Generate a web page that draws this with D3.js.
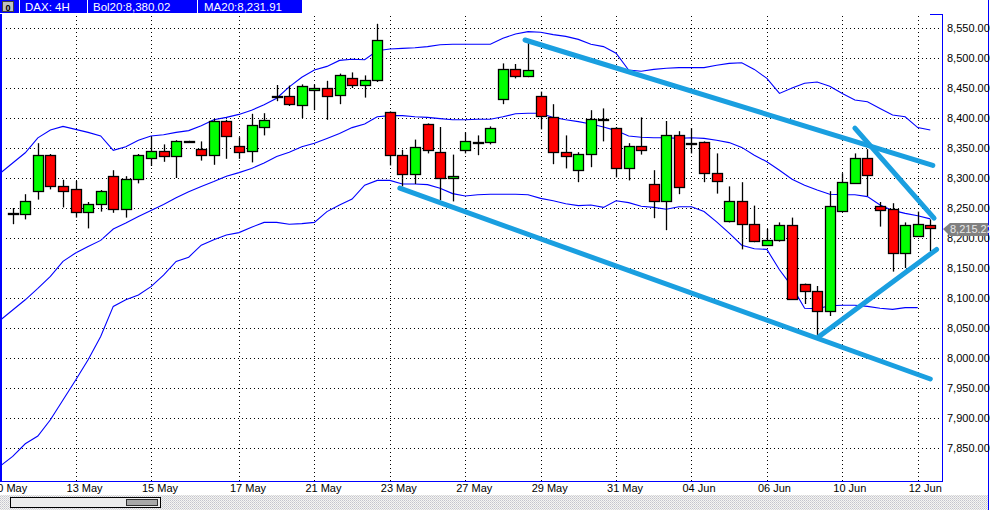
<!DOCTYPE html>
<html><head><meta charset="utf-8">
<script src="https://cdn.jsdelivr.net/npm/d3@7"></script>
<style>
html,body{margin:0;padding:0;background:#fff;}
svg{display:block;}
text{font-family:"Liberation Sans",Arial,sans-serif;}
</style></head>
<body><svg id="c" width="990" height="510"></svg>
<script>
// ---- data ----
const openV  = [8241,8241,8278,8338,8286,8281,8243,8256,8303,8248,8298,8333,8345,8336,8361,8348,8338,8395,8354,8344,8386,8436,8436,8423,8446,8450,8438,8466,8454,8463,8410,8338,8306,8390,8344,8301,8346,8360,8360,8431,8481,8470,8436,8401,8343,8313,8340,8399,8384,8318,8354,8290,8261,8371,8359,8360,8308,8228,8261,8223,8188,8196,8221,8123,8111,8078,8245,8293,8334,8254,8248,8174,8203,8221];
const highV  = [8250,8273,8358,8340,8297,8295,8260,8280,8313,8303,8340,8369,8356,8363,8362,8361,8398,8397,8368,8407,8408,8455,8454,8456,8456,8462,8474,8476,8471,8557,8411,8347,8364,8391,8385,8339,8376,8371,8386,8491,8490,8526,8444,8423,8371,8343,8413,8416,8385,8358,8401,8313,8395,8378,8383,8361,8341,8286,8293,8254,8215,8226,8234,8124,8120,8278,8308,8341,8348,8260,8258,8226,8244,8231];
const lowV   = [8223,8231,8264,8281,8251,8234,8216,8244,8242,8234,8291,8320,8327,8300,8360,8329,8322,8332,8332,8326,8371,8428,8420,8400,8413,8397,8423,8450,8434,8460,8321,8286,8290,8341,8263,8261,8341,8338,8356,8423,8466,8468,8381,8323,8316,8293,8318,8361,8301,8296,8339,8233,8213,8273,8341,8293,8274,8226,8181,8193,8188,8194,8098,8090,8038,8070,8245,8290,8270,8219,8144,8150,8203,8178];
const closeV = [8241,8262,8338,8287,8278,8243,8256,8278,8248,8298,8338,8345,8336,8361,8361,8338,8395,8370,8344,8388,8397,8436,8423,8454,8450,8436,8471,8454,8463,8530,8338,8306,8351,8346,8301,8304,8361,8360,8383,8481,8470,8480,8403,8343,8336,8340,8398,8399,8318,8354,8348,8261,8371,8284,8359,8308,8294,8261,8223,8194,8196,8221,8098,8111,8078,8253,8293,8334,8306,8248,8174,8221,8223,8215.22];
// Bollinger bands (index -1 .. 73)
const bolUpper = [8308,8325,8342,8367,8380,8386,8381,8376,8370,8346,8352,8363,8370,8372,8376,8379,8387,8397,8401,8406,8413,8422,8433,8452,8468,8480,8486,8496,8498,8497,8512,8515,8516,8517,8519,8522,8523,8523,8523,8523,8533,8540,8544,8543,8539,8536,8531,8523,8519,8508,8480,8478,8481,8483,8484,8484,8484,8488,8491,8492,8481,8466,8441,8450,8458,8460,8453,8441,8430,8427,8416,8405,8402,8384,8380.02];
const ma20     = [8063,8080,8097,8116,8136,8161,8175,8186,8196,8215,8225,8236,8246,8256,8267,8277,8286,8294,8303,8309,8316,8325,8336,8343,8352,8358,8366,8374,8384,8390,8402,8404,8404,8402,8401,8399,8397,8397,8398,8398,8402,8407,8408,8408,8401,8397,8394,8390,8385,8379,8370,8368,8367,8367,8366,8367,8366,8363,8359,8351,8338,8327,8313,8298,8288,8280,8273,8272,8272,8269,8255,8246,8241,8237,8231.91];
const bolLower = [7820,7836,7857,7870,7897,7930,7963,7997,8036,8086,8097,8105,8119,8138,8161,8168,8188,8197,8205,8209,8218,8226,8226,8223,8224,8226,8244,8255,8265,8288,8296,8296,8290,8290,8289,8283,8274,8270,8272,8273,8273,8273,8272,8266,8262,8257,8254,8255,8251,8262,8259,8253,8251,8248,8252,8252,8244,8227,8208,8188,8182,8181,8147,8119,8083,8082,8087,8088,8088,8086,8083,8081,8084,8084];
const tickIdx    = [-1,5,11,18,24,30,36,42,48,54,60,66,72];
const tickLabels = ["10 May","13 May","15 May","17 May","21 May","23 May","27 May","29 May","31 May","04 Jun","06 Jun","10 Jun","12 Jun"];
const yTicks = [7850,7900,7950,8000,8050,8100,8150,8200,8250,8300,8350,8400,8450,8500,8550];
// trend lines drawn on the chart: [index0, price0, index1, price1]
const trendLines = [[30.8,8283,73.0,7965],[40.76,8530,73.2,8321],[67.0,8383,73.3,8233],[64.1,8035,73.5,8181]];
const headerTexts = ["DAX: 4H","Bol20:8,380.02","MA20:8,231.91"];
const lastPrice = 8215.22;

// ---- chart ----
const svg = d3.select("#c");
const L = 2, R = 942, T = 14, B = 481;
const x = d3.scaleLinear().domain([0,73]).range([12.7,930.3]);
const y = d3.scaleLinear().domain([7850,8550]).range([448,28]);
const fmt = d3.format(",.2f");

svg.append("rect").attr("width",990).attr("height",510).attr("fill","#fff");

// dither pattern
const defs = svg.append("defs");
const pat = defs.append("pattern").attr("id","dith").attr("width",2).attr("height",2).attr("patternUnits","userSpaceOnUse");
pat.append("rect").attr("width",2).attr("height",2).attr("fill","#f4f4f4");
pat.append("rect").attr("width",1).attr("height",1).attr("fill","#c4c4cc");
pat.append("rect").attr("x",1).attr("y",1).attr("width",1).attr("height",1).attr("fill","#d8d8d8");
defs.append("clipPath").attr("id","plot").append("rect").attr("x",L).attr("y",T).attr("width",R-L).attr("height",B-T);

// grid
const grid = svg.append("g").attr("stroke","#000").attr("stroke-dasharray","1,3").attr("shape-rendering","crispEdges");
yTicks.forEach(v=>{
  grid.append("line").attr("x1",L+4).attr("x2",R).attr("y1",Math.round(y(v))+0.5).attr("y2",Math.round(y(v))+0.5);
});
tickIdx.forEach(i=>{
  if(i<0) return;
  const xx = Math.round(x(i))+0.5;
  grid.append("line").attr("x1",xx).attr("x2",xx).attr("y1",T+2).attr("y2",B);
});

const plot = svg.append("g").attr("clip-path","url(#plot)");

// bands
const bandLine = d3.line().x((d,i)=>x(i-1)).y(d=>y(d));
[bolUpper,ma20,bolLower].forEach(arr=>{
  plot.append("path").attr("d",bandLine(arr)).attr("fill","none").attr("stroke","#0000ff").attr("stroke-width",1.1);
});

// candles
const cw = 10;
const cg = plot.append("g");
closeV.forEach((c,i)=>{
  const o = openV[i], h = highV[i], l = lowV[i];
  const cx = Math.round(x(i))+0.5;
  cg.append("line").attr("x1",cx).attr("x2",cx).attr("y1",y(h)).attr("y2",y(l)).attr("stroke","#000").attr("stroke-width",1.3);
  const top = y(Math.max(o,c)), bot = y(Math.min(o,c));
  const hgt = Math.max(bot-top,1);
  const fill = Math.abs(c-o) < 0.5 ? "#000" : (c>o ? "#00ff00" : "#ff0000");
  cg.append("rect").attr("x",cx-cw/2).attr("y",Math.round(top)+0.5).attr("width",cw).attr("height",Math.round(hgt))
    .attr("fill",fill).attr("stroke","#000").attr("stroke-width",1.3);
});

// trend lines
trendLines.forEach(t=>{
  plot.append("line").attr("x1",x(t[0])).attr("y1",y(t[1])).attr("x2",x(t[2])).attr("y2",y(t[3]))
    .attr("stroke","#1a9fe0").attr("stroke-width",5).attr("stroke-linecap","round");
});

// frame
const fr = svg.append("g").attr("stroke","#0000ff").attr("fill","none").attr("shape-rendering","crispEdges");
fr.append("line").attr("x1",1).attr("x2",1).attr("y1",T).attr("y2",B).attr("stroke-width",2);
fr.append("line").attr("x1",R+0.5).attr("x2",R+0.5).attr("y1",T).attr("y2",B);
fr.append("line").attr("x1",0).attr("x2",R+1).attr("y1",B+0.5).attr("y2",B+0.5);
fr.append("line").attr("x1",930).attr("x2",R+1).attr("y1",T+0.5).attr("y2",T+0.5);
fr.append("line").attr("x1",988.5).attr("x2",988.5).attr("y1",0).attr("y2",510);

// y labels
const yl = svg.append("g").attr("font-size",11).attr("fill","#000");
yTicks.forEach(v=>{
  yl.append("text").attr("x",947).attr("y",y(v)+4).text(fmt(v));
});

// last price tag
const ly = Math.round(y(lastPrice));
svg.append("path").attr("d",`M943,${ly} L950,${ly-6} L988,${ly-6} L988,${ly+7} L950,${ly+7} Z`).attr("fill","#808080");
svg.append("text").attr("x",950).attr("y",ly+4).attr("font-size",11).attr("fill","#e8e8e8").text(fmt(lastPrice));

// x labels
const xl = svg.append("g").attr("font-size",11).attr("fill","#000");
tickIdx.forEach((i,k)=>{
  xl.append("text").attr("x",x(i)-9).attr("y",492).text(tickLabels[k]);
});

// bottom dithered strip + scrollbar
svg.append("rect").attr("x",0).attr("y",495).attr("width",988).attr("height",15).attr("fill","url(#dith)");
svg.append("rect").attr("x",10.5).attr("y",497.5).attr("width",150).attr("height",10).attr("fill","#ececec").attr("stroke","#000");
svg.append("rect").attr("x",126.5).attr("y",499.5).attr("width",31).attr("height",6).attr("fill","#a8a8a8").attr("stroke","#303030");

// header bar
const hd = svg.append("g");
hd.append("rect").attr("x",0).attr("y",0).attr("width",302).attr("height",13).attr("fill","#0000ff");
hd.append("rect").attr("x",2.5).attr("y",1.5).attr("width",11).attr("height",10).attr("fill","#c0c0c0").attr("stroke","#404040");
hd.append("text").attr("x",8).attr("y",10.5).attr("text-anchor","middle").attr("font-size",9).attr("font-weight","bold").attr("fill","#000").text("0");
[19.5,87.5,197.5].forEach(sx=>hd.append("line").attr("x1",sx).attr("x2",sx).attr("y1",0).attr("y2",13).attr("stroke","#fff"));
const hx = [25,93,204];
headerTexts.forEach((t,k)=>hd.append("text").attr("x",hx[k]).attr("y",11).attr("font-size",11.5).attr("fill","#fff").text(t));
</script></body></html>
